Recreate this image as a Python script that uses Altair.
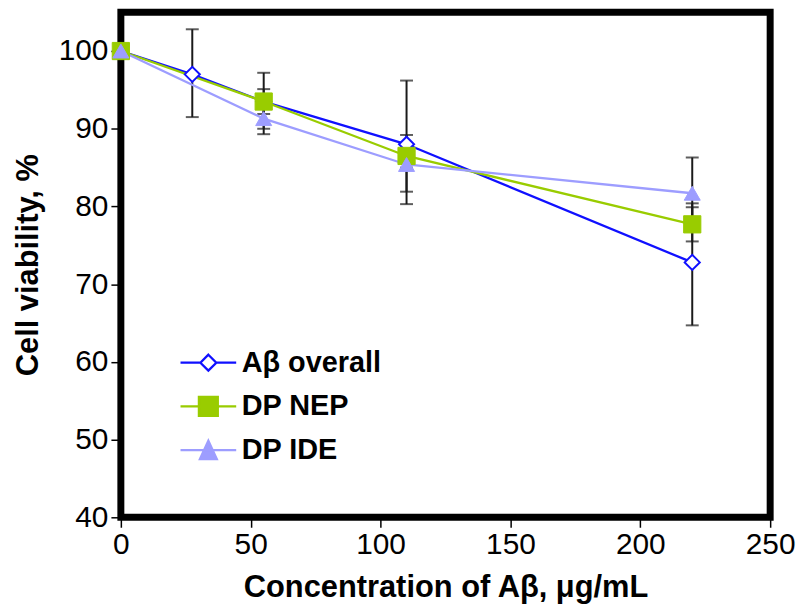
import altair as alt
import pandas as pd

# ---- data ----
series_names = ["Aβ overall", "DP NEP", "DP IDE"]
series_colors = ["#1010ff", "#99cc00", "#9d9dff"]
series_fills = ["#ffffff", "#99cc00", "#9d9dff"]

conc_overall = [0, 27.5, 55, 110, 220]
via_overall = [100, 97.0, 93.5, 88.0, 72.8]
lo_overall = [100, 91.5, 91.9, 80.3, 64.7]
hi_overall = [100, 102.8, 95.1, 96.2, 80.4]

conc_nep = [0, 55, 110, 220]
via_nep = [100, 93.5, 86.5, 77.7]
lo_nep = [100, 89.3, 85.0, 75.5]
hi_nep = [100, 97.2, 88.0, 79.9]

conc_ide = [0, 55, 110, 220]
via_ide = [100, 91.3, 85.4, 81.7]
lo_ide = [100, 90.0, 81.9, 77.1]
hi_ide = [100, 92.6, 89.2, 86.3]

x_ticks = [0, 50, 100, 150, 200, 250]
y_ticks = [40, 50, 60, 70, 80, 90, 100]

rows = []
for name, xs, ys, los, his in [
    (series_names[0], conc_overall, via_overall, lo_overall, hi_overall),
    (series_names[1], conc_nep, via_nep, lo_nep, hi_nep),
    (series_names[2], conc_ide, via_ide, lo_ide, hi_ide),
]:
    for i, (xv, yv, lo, hi) in enumerate(zip(xs, ys, los, his)):
        rows.append({"series": name, "order": i, "conc": xv, "via": yv, "lo": lo, "hi": hi})
df = pd.DataFrame(rows)

FONT = "Liberation Sans"

xenc = alt.X("conc:Q", scale=alt.Scale(domain=[0, 250], nice=False),
             axis=alt.Axis(values=x_ticks, title="Concentration of Aβ, μg/mL",
                           labelFlush=False, labelOverlap=False, labelPadding=2,
                           titlePadding=14))
yenc = alt.Y("via:Q", scale=alt.Scale(domain=[40, 105], nice=False, zero=False),
             axis=alt.Axis(values=y_ticks, title="Cell viability, %",
                           labelPadding=3, titlePadding=14))

color_scale = alt.Scale(domain=series_names, range=series_colors)

legend_paths = [
    "M-2.8,0H-0.8M0.8,0H2.8M0,-0.8L0.8,0L0,0.8L-0.8,0Z",
    "M-2.8,0H2.8M-0.95,-0.95H0.95V0.95H-0.95Z",
    "M-2.8,0H2.8M0,-0.95L0.85,0.9H-0.85Z",
]

leg = alt.Legend(
    orient="none", legendX=73.5, legendY=338, title=None, padding=0,
    symbolSize=400, symbolStrokeWidth=2.3, symbolOpacity=1,
    labelFont=FONT, labelFontSize=29, labelFontWeight="bold", labelColor="#000000",
    labelOffset=19, rowPadding=14, labelLimit=400,
)

base = alt.Chart(df)

# zero-size points (at the x=0 data) only serve to build the legend
legend_layer = base.transform_filter("datum.order == 0").mark_point(
    filled=False, size=0
).encode(
    x=xenc, y=yenc,
    color=alt.Color("series:N", scale=color_scale, legend=leg),
    shape=alt.Shape("series:N", scale=alt.Scale(domain=series_names, range=legend_paths), legend=leg),
    fill=alt.Fill("series:N", scale=alt.Scale(domain=series_names, range=series_fills), legend=leg),
)

err_rule = base.transform_filter("datum.lo < datum.hi").mark_rule(
    color="#1a1a1a", strokeWidth=2
).encode(x=xenc, y="lo:Q", y2="hi:Q")

err_lo = base.transform_filter("datum.lo < datum.hi").mark_tick(
    color="#1a1a1a", thickness=2, size=13, orient="horizontal"
).encode(x=xenc, y="lo:Q")

err_hi = base.transform_filter("datum.lo < datum.hi").mark_tick(
    color="#1a1a1a", thickness=2, size=13, orient="horizontal"
).encode(x=xenc, y="hi:Q")

lines = base.mark_line(strokeWidth=2.3).encode(
    x=xenc, y=yenc,
    color=alt.Color("series:N", scale=color_scale, legend=leg),
    detail="series:N",
    order="order:Q",
)

pts_overall = base.transform_filter(alt.datum.series == series_names[0]).mark_point(
    shape="diamond", filled=True, fill="#ffffff", stroke=series_colors[0],
    strokeWidth=2, size=230, opacity=1
).encode(x=xenc, y=yenc)

pts_nep = base.transform_filter(alt.datum.series == series_names[1]).mark_point(
    shape="square", filled=True, fill=series_colors[1], stroke=series_colors[1],
    strokeWidth=1, size=300, opacity=1
).encode(x=xenc, y=yenc)

pts_ide = base.transform_filter(alt.datum.series == series_names[2]).mark_point(
    shape="triangle-up", filled=True, fill=series_colors[2], stroke=series_colors[2],
    strokeWidth=1, size=260, opacity=1
).encode(x=xenc, y=yenc)

chart = alt.layer(
    legend_layer, err_rule, err_lo, err_hi, lines, pts_overall, pts_nep, pts_ide
).properties(
    width=653, height=508,
    autosize=alt.AutoSizeParams(type="none"),
    padding={"left": 113.5, "top": 2.5, "right": 28, "bottom": 88},
).configure_view(
    stroke="#000000", strokeWidth=7
).configure_axis(
    domain=False, grid=False, tickColor="#000000", tickSize=10, tickWidth=1.5,
    labelFont=FONT, labelFontSize=30, labelColor="#000000",
    titleFont=FONT, titleFontSize=31, titleFontWeight="bold", titleColor="#000000",
)

chart.save("out.html", embed_options={"renderer": "svg", "actions": False})
